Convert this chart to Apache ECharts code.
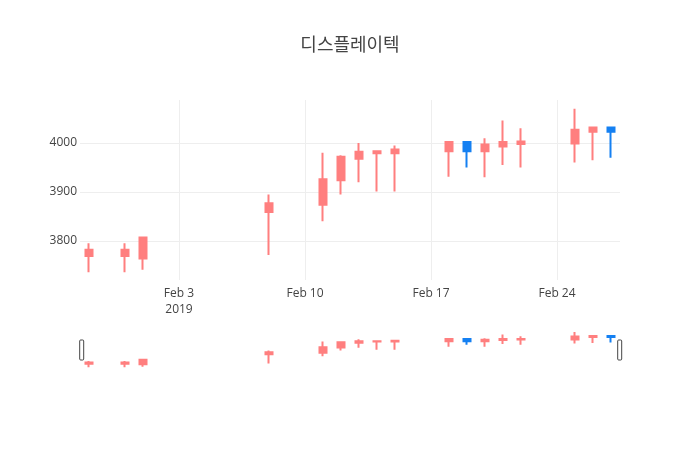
<!DOCTYPE html>
<html>
<head>
<meta charset="utf-8">
<script src="https://cdn.jsdelivr.net/npm/echarts@6/dist/echarts.min.js"></script>
<style>
  html, body { margin: 0; padding: 0; background: #fff; }
  #main { width: 700px; height: 450px; }
</style>
</head>
<body>
<div id="main"></div>
<script>
// 日期和 OHLC 数据
const dates = ['2019-01-29', '2019-01-31', '2019-02-01', '2019-02-08', '2019-02-11', '2019-02-12',
  '2019-02-13', '2019-02-14', '2019-02-15', '2019-02-18', '2019-02-19', '2019-02-20',
  '2019-02-21', '2019-02-22', '2019-02-25', '2019-02-26', '2019-02-27']
const openVals = [3769, 3769, 3764, 3859, 3874, 3924, 3968, 3979, 3979, 3983, 4002, 3983, 3993, 3998, 3999, 4023, 4032]
const closeVals = [3782, 3782, 3807, 3877, 3926, 3972, 3982, 3983, 3987, 4002, 3983, 3997, 4002, 4003, 4027, 4032, 4023]
const lowVals = [3736, 3736, 3741, 3771, 3840, 3895, 3920, 3901, 3901, 3931, 3950, 3930, 3955, 3950, 3960, 3965, 3970]
const highVals = [3795, 3795, 3807, 3895, 3980, 3975, 4000, 3984, 3995, 4002, 4004, 4010, 4046, 4030, 4070, 4032, 4032]
// x 轴刻度
const tickDates = ['2019-02-03', '2019-02-10', '2019-02-17', '2019-02-24']
const yTicks = [3800, 3900, 4000]

const DAY = 24 * 3600 * 1000
const upColor = '#ff7f7f'
const downColor = '#1580f2'
const months = ['Jan', 'Feb', 'Mar', 'Apr', 'May', 'Jun', 'Jul', 'Aug', 'Sep', 'Oct', 'Nov', 'Dec']

const ts = d => +new Date(d)
const ohlc = dates.map((d, i) => [ts(d), openVals[i], closeVals[i], lowVals[i], highVals[i]])
const xMin = ts(dates[0]) - DAY / 2
const xMax = ts(dates[dates.length - 1]) + DAY / 2
const tickVals = tickDates.map(ts)

const myChart = echarts.init(document.querySelector('#main'))

const candleStyle = {
  color: upColor,
  color0: downColor,
  borderColor: upColor,
  borderColor0: downColor,
  borderWidth: 2
}

const option = {
  backgroundColor: '#fff',
  animation: false,
  title: {
    text: '디스플레이텍',
    left: 'center',
    top: 30,
    textStyle: {
      fontFamily: 'Noto Sans CJK KR',
      fontSize: 18,
      fontWeight: 'normal',
      color: '#444'
    }
  },
  grid: [
    { left: 80, right: 80, top: 100, height: 180 },
    { left: 80, right: 80, top: 330, height: 39 }
  ],
  xAxis: [
    {
      type: 'value',
      gridIndex: 0,
      min: xMin,
      max: xMax,
      axisLine: { show: false },
      axisTick: { show: false, customValues: tickVals },
      splitLine: { show: true, lineStyle: { color: '#eee', width: 1 } },
      axisLabel: {
        customValues: tickVals,
        color: '#444',
        fontSize: 12,
        fontFamily: 'Open Sans',
        margin: 6,
        lineHeight: 16,
        formatter: v => {
          const d = new Date(v)
          const s = months[d.getUTCMonth()] + ' ' + d.getUTCDate()
          return v === tickVals[0] ? s + '\n' + d.getUTCFullYear() : s
        }
      }
    },
    {
      type: 'value',
      gridIndex: 1,
      min: xMin,
      max: xMax,
      show: false
    }
  ],
  yAxis: [
    {
      type: 'value',
      gridIndex: 0,
      min: 3720,
      max: 4088,
      axisLine: { show: false },
      axisTick: { show: false, customValues: yTicks },
      splitLine: { show: true, lineStyle: { color: '#eee', width: 1 } },
      axisLabel: {
        customValues: yTicks,
        color: '#444',
        fontSize: 12,
        fontFamily: 'Open Sans',
        margin: 3,
        formatter: v => String(v)
      }
    },
    {
      type: 'value',
      gridIndex: 1,
      min: 3720,
      max: 4088,
      show: false
    }
  ],
  dataZoom: [
    {
      type: 'slider',
      xAxisIndex: [1],
      filterMode: 'none',
      start: 0,
      end: 100,
      left: 80,
      right: 80,
      top: 340,
      height: 20,
      showDataShadow: false,
      showDetail: false,
      brushSelect: false,
      moveHandleSize: 0,
      backgroundColor: 'rgba(0,0,0,0)',
      borderColor: 'rgba(0,0,0,0)',
      fillerColor: 'rgba(0,0,0,0)',
      handleIcon: 'path://M1,0 h2 a1,1 0 0 1 1,1 v18 a1,1 0 0 1 -1,1 h-2 a1,1 0 0 1 -1,-1 v-18 a1,1 0 0 1 1,-1 Z',
      handleSize: '100%',
      handleStyle: { color: '#fff', borderColor: '#444', borderWidth: 1 },
      emphasis: { handleStyle: { color: '#fff', borderColor: '#444' } }
    }
  ],
  series: [
    {
      name: '디스플레이텍',
      type: 'candlestick',
      xAxisIndex: 0,
      yAxisIndex: 0,
      data: ohlc,
      encode: { x: 0, y: [1, 2, 3, 4] },
      barWidth: 8,
      itemStyle: candleStyle
    },
    {
      name: 'range',
      type: 'candlestick',
      xAxisIndex: 1,
      yAxisIndex: 1,
      data: ohlc,
      encode: { x: 0, y: [1, 2, 3, 4] },
      barWidth: 8,
      silent: true,
      itemStyle: candleStyle
    }
  ]
}

myChart.setOption(option)
</script>
</body>
</html>
